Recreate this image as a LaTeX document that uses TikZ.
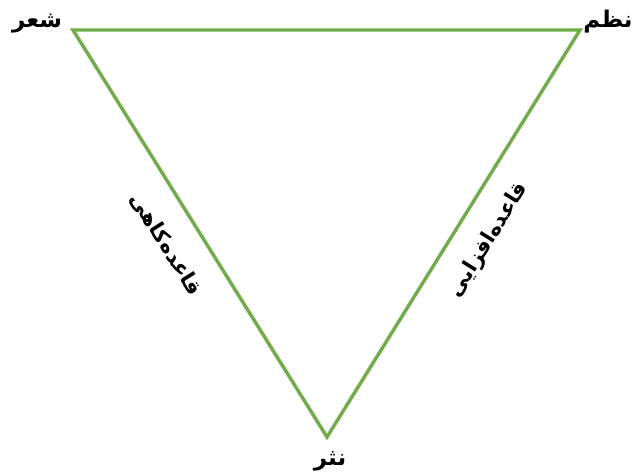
\documentclass[tikz,border=0pt]{standalone}
\usepackage{fontspec}
\TeXXeTstate=1
\newfontfamily\arabicfont[Script=Arabic]{DejaVu Sans}
\definecolor{edgegreen}{RGB}{112,173,71}
\begin{document}
\begin{tikzpicture}[x=1pt,y=-1pt,
  edge/.style={draw=edgegreen,line width=3.4pt,line join=miter},
  vlabel/.style={font=\arabicfont\bfseries\fontsize{23}{26}\selectfont,inner sep=0pt},
  slabel/.style={font=\arabicfont\bfseries\fontsize{21}{24}\selectfont,inner sep=0pt}]
\useasboundingbox (0,0) rectangle (634,474);
\coordinate (A) at (73,30);
\coordinate (B) at (580,30);
\coordinate (C) at (327,437);
\draw[edge] (A) -- (B) -- (C) -- cycle;
\node[vlabel] (sher) at (37,24) {\beginR شعر\endR};
\node[vlabel] (nazm) at (608,22) {\beginR نظم\endR};
\node[vlabel] (nasr) at (330,461) {\beginR نثر\endR};
\node[slabel,rotate=-58] (kahi) at (166,244) {\beginR قاعده‌کاهی\endR};
\node[slabel,rotate=58] (afzayi) at (489,240) {\beginR قاعده‌افزایی\endR};
\end{tikzpicture}
\end{document}
